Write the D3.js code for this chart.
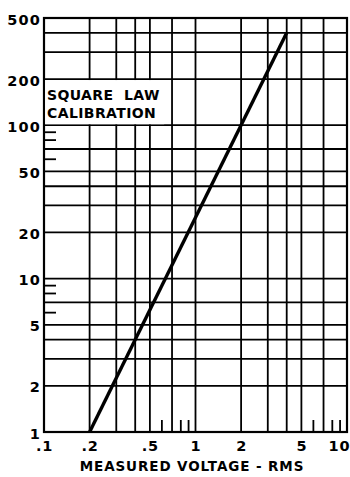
<!DOCTYPE html>
<html>
<head>
<meta charset="utf-8">
<script src="https://cdn.jsdelivr.net/npm/d3@7"></script>
<style>
  html, body { margin: 0; padding: 0; background: #fff; }
  svg { display: block; }
  text { font-family: "DejaVu Sans", "Liberation Sans", sans-serif; font-weight: bold; fill: #000; white-space: pre; }
</style>
</head>
<body>
<svg id="chart" width="350" height="477"></svg>
<script>
// Log-log grid: full rulings and short edge ticks
const xGridVolts = [0.2, 0.3, 0.4, 0.5, 0.7, 1, 2, 3, 4, 5, 7];
const xShortTicks = [0.6, 0.8, 0.9, 6, 8, 9];
const yGridValues = [2, 3, 4, 5, 7, 10, 20, 30, 40, 50, 70, 100, 200, 300, 400];
const yShortTicks = [6, 8, 9, 60, 80, 90];

// Axis labels
const xTickValues = [0.1, 0.2, 0.5, 1, 2, 5, 10];
const xTickLabels = [".1", ".2", ".5", "1", "2", "5", "10"];
const yTickValues = [1, 2, 5, 10, 20, 50, 100, 200, 500];
const yTickLabels = ["1", "2", "5", "10", "20", "50", "100", "200", "500"];

// Square-law calibration curve (value = 25 * V^2)
const curveVolts = [0.2, 4];
const curveValues = [1, 400];

const svg = d3.select("#chart");
const plotLeft = 44, plotRight = 347, plotTop = 18, plotBottom = 432;

const x = d3.scaleLog().domain([0.1, 10]).range([plotLeft, plotRight]);
const y = d3.scaleLog().domain([1, 500]).range([plotBottom, plotTop]);

const grid = svg.append("g").attr("stroke", "#000").attr("stroke-width", 1.8);

grid.selectAll("line.v").data(xGridVolts).join("line")
  .attr("x1", d => x(d)).attr("x2", d => x(d))
  .attr("y1", plotTop).attr("y2", plotBottom);

grid.selectAll("line.h").data(yGridValues).join("line")
  .attr("x1", plotLeft).attr("x2", plotRight)
  .attr("y1", d => y(d)).attr("y2", d => y(d));

grid.selectAll("line.xs").data(xShortTicks).join("line")
  .attr("x1", d => x(d)).attr("x2", d => x(d))
  .attr("y1", plotBottom).attr("y2", plotBottom - 12);

grid.selectAll("line.ys").data(yShortTicks).join("line")
  .attr("x1", plotLeft).attr("x2", plotLeft + 12)
  .attr("y1", d => y(d)).attr("y2", d => y(d));

// Frame
svg.append("rect")
  .attr("x", plotLeft).attr("y", plotTop)
  .attr("width", plotRight - plotLeft).attr("height", plotBottom - plotTop)
  .attr("fill", "none").attr("stroke", "#000").attr("stroke-width", 2.2);

// Title block
const boxTop = y(200), boxBottom = y(100);
svg.append("rect")
  .attr("x", plotLeft + 1.2).attr("y", boxTop + 1)
  .attr("width", 119).attr("height", boxBottom - boxTop - 2)
  .attr("fill", "#fff");
svg.append("text").attr("x", plotLeft + 3).attr("y", boxTop + 21)
  .attr("font-size", 14).attr("letter-spacing", 0.4).text("SQUARE  LAW");
svg.append("text").attr("x", plotLeft + 3).attr("y", boxTop + 39)
  .attr("font-size", 14).attr("letter-spacing", 0.4).text("CALIBRATION");

// Curve
svg.append("path")
  .datum(curveVolts.map((v, i) => [v, curveValues[i]]))
  .attr("d", d3.line().x(d => x(d[0])).y(d => y(d[1])))
  .attr("fill", "none").attr("stroke", "#000").attr("stroke-width", 3.4);

// Axes (labels only)
const xAxis = d3.axisBottom(x).tickValues(xTickValues)
  .tickFormat((d, i) => xTickLabels[i]).tickSize(0).tickPadding(9);
const gx = svg.append("g").attr("transform", `translate(0,${plotBottom})`).call(xAxis);
gx.select(".domain").remove();
gx.selectAll("text").attr("font-size", 14.5).attr("font-family", null).attr("letter-spacing", 0.8);
gx.selectAll("text").filter(d => d === 10).attr("dx", -8);

const yAxis = d3.axisLeft(y).tickValues(yTickValues)
  .tickFormat((d, i) => yTickLabels[i]).tickSize(0).tickPadding(3);
const gy = svg.append("g").attr("transform", `translate(${plotLeft},0)`).call(yAxis);
gy.select(".domain").remove();
gy.selectAll("text").attr("font-size", 14.5).attr("font-family", null)
  .attr("letter-spacing", 1.2).attr("dy", "0.42em");

// Axis title
svg.append("text").attr("x", 192).attr("y", 471)
  .attr("text-anchor", "middle").attr("font-size", 13.5).attr("letter-spacing", 0.9)
  .text("MEASURED VOLTAGE - RMS");
</script>
</body>
</html>
